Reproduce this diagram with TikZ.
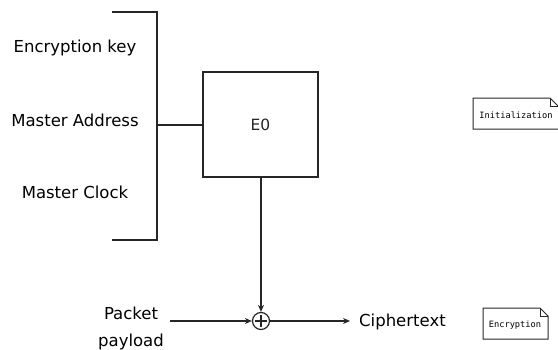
\documentclass[tikz,border=0pt]{standalone}
\usepackage{fontspec}
\setmainfont{DejaVu Sans}
\setmonofont{DejaVu Sans Mono}
\usetikzlibrary{arrows.meta}
\begin{document}
\begin{tikzpicture}[x=1pt,y=-1pt,
  wire/.style={line width=1.2pt, black!85},
  arr/.style={wire, -{Stealth[length=7pt,width=6pt]}},
  lbl/.style={font=\fontsize{16.5}{19}\selectfont, inner sep=0pt},
  note/.style={line width=1pt, black!85},
  notetext/.style={font=\ttfamily\fontsize{8.7}{10}\selectfont}]
\useasboundingbox (0,0) rectangle (558,349);
% inputs
\node[lbl] (key)  at (75,48)  {Encryption key};
\node[lbl] (addr) at (75,120) {Master Address};
\node[lbl] (clk)  at (75,192) {Master Clock};
% bracket gathering the inputs
\coordinate (bt) at (112,12);
\coordinate (bb) at (112,240);
\coordinate (bm) at (157,125);
\draw[wire] (bt) -- (157,12) -- (157,240) -- (bb);
% generator block
\node[wire, draw, minimum width=115pt, minimum height=105pt, inner sep=0pt,
      font=\fontsize{15.5}{18}\selectfont] (e0) at (260.5,124.5) {E0};
\draw[wire] (bm) -- (e0.west |- bm);
% combiner
\node[wire, draw, circle, minimum size=17pt, inner sep=0pt] (xor) at (261,321) {};
\draw[wire] ([yshift=-6pt]xor.center) -- ([yshift=6pt]xor.center)
            ([xshift=-6pt]xor.center) -- ([xshift=6pt]xor.center);
\node[lbl, align=center, font=\fontsize{16.5}{27}\selectfont] (pay) at (131,328) {Packet\\payload};
\coordinate (pin) at (170,321);
\draw[arr] (e0.south -| xor) -- (xor.north);
\draw[arr] (pin) -- (xor.west);
\node[lbl, anchor=west] (ct) at (359,322) {Ciphertext};
\draw[arr] (xor.east) -- (350,321);
% notes with folded corner
\draw[note] (473,98) -- (550,98) -- (563,111) -- (563,129) -- (473,129) -- cycle;
\draw[note] (550,98) -- (550,106) -- (558,106);
\node[notetext] (ninit) at (516,115) {Initialization};
\draw[note] (483,308) -- (540,308) -- (548,316) -- (548,339) -- (483,339) -- cycle;
\draw[note] (540,308) -- (540,316) -- (548,316);
\node[notetext] (nenc) at (515,325) {Encryption};
\end{tikzpicture}
\end{document}
